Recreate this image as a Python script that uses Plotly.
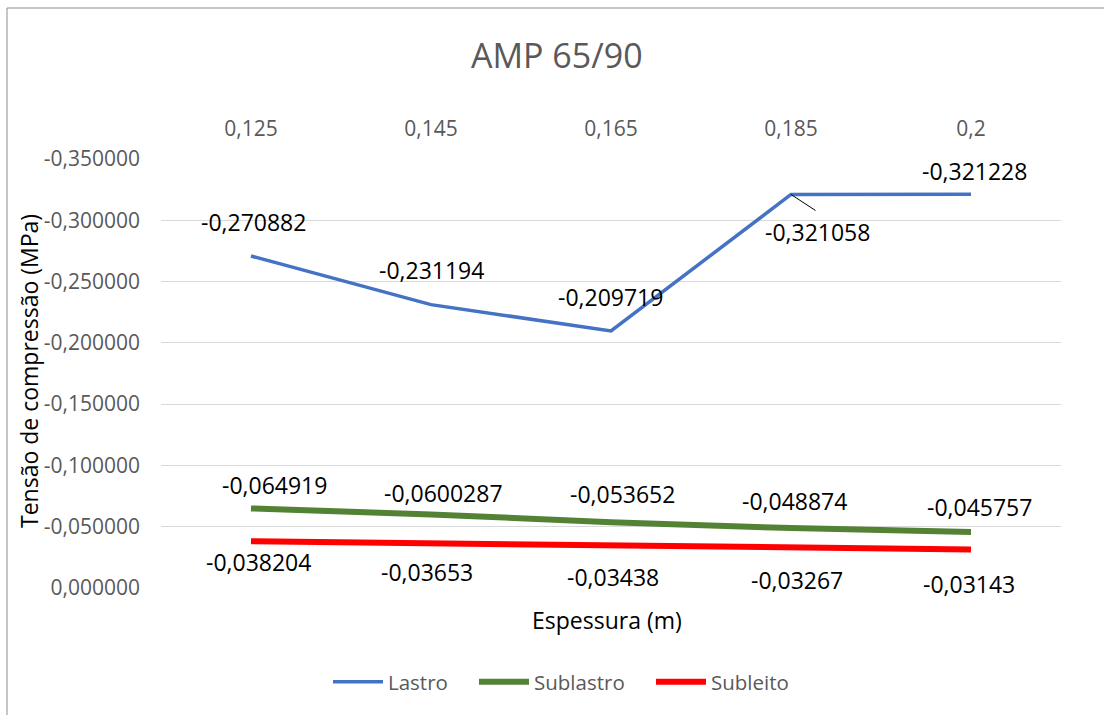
import plotly.graph_objects as go

# ---- data ----
categories = ["0,125", "0,145", "0,165", "0,185", "0,2"]
lastro = [-0.270882, -0.231194, -0.209719, -0.321058, -0.321228]
sublastro = [-0.064919, -0.0600287, -0.053652, -0.048874, -0.045757]
subleito = [-0.038204, -0.03653, -0.03438, -0.03267, -0.03143]
y_ticks = [0, -0.05, -0.10, -0.15, -0.20, -0.25, -0.30, -0.35]
y_tick_text = [f"{v:.6f}".replace(".", ",") for v in y_ticks]

# label offsets (px) relative to each point: (xshift, yshift)
lastro_off = [(2, 34), (0, 35), (-1, 34), None, (3, 23)]
sublastro_off = [(23, 23), (12, 21), (11, 28), (3, 27), (8, 25)]
subleito_off = [(7, -21), (-4, -29), (2, -31), (6, -32), (-2, -35)]

FONT = "Open Sans"
W, H = 1104, 715
ML, MR, MT, MB = 161, 43, 159, 127
PW, PH = W - ML - MR, H - MT - MB


def px_x(p):
    return (p - ML) / PW


def px_y(p):
    return (H - MB - p) / PH


def fmt(v):
    return str(v).replace(".", ",")


fig = go.Figure()
fig.add_trace(go.Scatter(x=categories, y=lastro, mode="lines", name="Lastro",
                         line=dict(color="#4472C4", width=3.5), legend="legend"))
fig.add_trace(go.Scatter(x=categories, y=sublastro, mode="lines", name="Sublastro",
                         line=dict(color="#548235", width=6), legend="legend2"))
fig.add_trace(go.Scatter(x=categories, y=subleito, mode="lines", name="Subleito",
                         line=dict(color="#FF0000", width=6), legend="legend3"))

annotations = []
for series, offs in ((lastro, lastro_off), (sublastro, sublastro_off), (subleito, subleito_off)):
    for c, v, o in zip(categories, series, offs):
        if o is None:
            # label with leader line
            annotations.append(dict(x=c, y=v, xref="x", yref="y", text=fmt(v),
                                    showarrow=False, xshift=26, yshift=-38,
                                    font=dict(family=FONT, size=23, color="#000000")))
            annotations.append(dict(x=c, y=v, xref="x", yref="y", text="",
                                    showarrow=True, arrowhead=0, arrowwidth=1,
                                    arrowcolor="#000000", ax=26, ay=17,
                                    standoff=0, startstandoff=0))
        else:
            annotations.append(dict(x=c, y=v, xref="x", yref="y", text=fmt(v),
                                    showarrow=False, xshift=o[0], yshift=o[1],
                                    font=dict(family=FONT, size=23, color="#000000")))

# titles
annotations.append(dict(xref="paper", yref="paper", x=px_x(557), y=px_y(55),
                        text="AMP 65/90", showarrow=False, xanchor="center", yanchor="middle",
                        font=dict(family=FONT, size=34, color="#595959")))
annotations.append(dict(xref="paper", yref="paper", x=px_x(607), y=px_y(620),
                        text="Espessura (m)", showarrow=False, xanchor="center", yanchor="middle",
                        font=dict(family=FONT, size=23, color="#000000")))
annotations.append(dict(xref="paper", yref="paper", x=px_x(29), y=px_y(371),
                        text="Tensão de compressão (MPa)", showarrow=False, textangle=-90,
                        xanchor="center", yanchor="middle",
                        font=dict(family=FONT, size=23, color="#000000")))

leg_common = dict(orientation="h", xanchor="left", yanchor="middle", y=px_y(682),
                  font=dict(family=FONT, size=20.5, color="#595959"),
                  itemwidth=50, bgcolor="rgba(0,0,0,0)")

fig.update_layout(
    width=W, height=H,
    margin=dict(l=ML, r=MR, t=MT, b=MB),
    paper_bgcolor="white", plot_bgcolor="white",
    font=dict(family=FONT, color="#595959"),
    showlegend=True,
    legend=dict(leg_common, x=px_x(328)),
    legend2=dict(leg_common, x=px_x(474)),
    legend3=dict(leg_common, x=px_x(651)),
    annotations=annotations,
    shapes=[dict(type="rect", xref="paper", yref="paper",
                 x0=px_x(7), x1=px_x(1120), y0=px_y(8), y1=px_y(730),
                 line=dict(color="#8C8C8C", width=1), fillcolor="rgba(0,0,0,0)", layer="below")],
)

fig.update_xaxes(type="category", side="top", range=[-0.5, 4.5],
                 showgrid=False, zeroline=False, showline=False, ticks="",
                 ticklabelstandoff=18,
                 tickfont=dict(family=FONT, size=21, color="#595959"))
fig.update_yaxes(range=[0, -0.35], tickvals=y_ticks, ticktext=y_tick_text,
                 showgrid=True, gridcolor="#D9D9D9", gridwidth=1.3,
                 zeroline=False, showline=False, ticks="",
                 ticklabelstandoff=20,
                 tickfont=dict(family=FONT, size=21, color="#595959"))

fig.write_html("out.html")
